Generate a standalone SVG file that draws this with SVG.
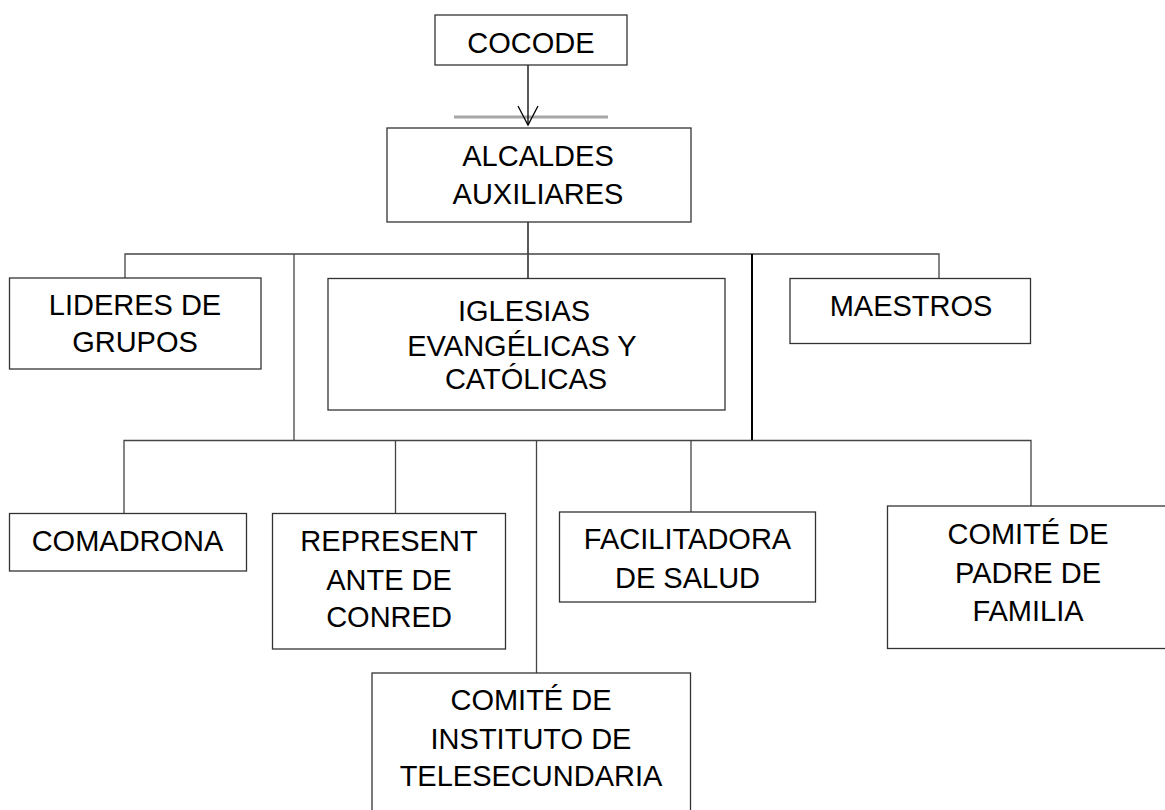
<svg xmlns="http://www.w3.org/2000/svg" width="1165" height="810" viewBox="0 0 1165 810">
<style>
  .box { fill: #ffffff; stroke: #333333; stroke-width: 1.3; }
  .lbl { font-family: "Liberation Sans", Arial, sans-serif; font-size: 29px; fill: #000000; text-anchor: middle; }
  .con { fill: none; stroke: #444444; stroke-width: 1.3; }
  .conb { fill: none; stroke: #000000; stroke-width: 2; }
</style>
<rect width="1165" height="810" fill="#ffffff"/>
<g id="connectors">
  <line x1="454" y1="117" x2="608" y2="117" stroke="#a6a6a6" stroke-width="3"/>
  <line x1="528" y1="65" x2="528" y2="125" stroke="#000" stroke-width="1.3"/>
  <polyline points="518,106 528,125 538,106" fill="none" stroke="#000" stroke-width="1.3"/>
  <line x1="528" y1="222" x2="528" y2="278" stroke="#000" stroke-width="1.3"/>
  <polyline class="con" points="125,278 125,254 939,254 939,278"/>
  <line class="con" x1="294" y1="254" x2="294" y2="440.5"/>
  <line class="conb" x1="752" y1="254" x2="752" y2="440.5"/>
  <polyline class="con" points="124,513 124,440.5 1031,440.5 1031,506"/>
  <line class="con" x1="395.5" y1="440.5" x2="395.5" y2="513"/>
  <line class="con" x1="536.5" y1="440.5" x2="536.5" y2="673"/>
  <line class="con" x1="691" y1="440.5" x2="691" y2="512"/>
</g>
<g id="cocode">
  <rect class="box" x="435" y="15" width="192" height="50"/>
  <text class="lbl" x="531" y="52.5">COCODE</text>
</g>
<g id="alcaldes">
  <rect class="box" x="387" y="128" width="304" height="94"/>
  <text class="lbl" x="538" y="165.5">ALCALDES</text>
  <text class="lbl" x="538" y="204">AUXILIARES</text>
</g>
<g id="lideres">
  <rect class="box" x="9.5" y="278" width="251.5" height="91"/>
  <text class="lbl" x="135" y="314.5">LIDERES DE</text>
  <text class="lbl" x="135" y="352">GRUPOS</text>
</g>
<g id="iglesias">
  <rect class="box" x="328" y="278.5" width="397" height="131.5"/>
  <text class="lbl" x="524" y="320.5">IGLESIAS</text>
  <text class="lbl" x="522" y="356">EVANGÉLICAS Y</text>
  <text class="lbl" x="526" y="388.5">CATÓLICAS</text>
</g>
<g id="maestros">
  <rect class="box" x="790" y="278.5" width="240.5" height="65"/>
  <text class="lbl" x="911" y="316">MAESTROS</text>
</g>
<g id="comadrona">
  <rect class="box" x="9.5" y="513.5" width="237" height="57.5"/>
  <text class="lbl" x="127.5" y="550.5">COMADRONA</text>
</g>
<g id="representante">
  <rect class="box" x="272.5" y="513.5" width="233" height="135.5"/>
  <text class="lbl" x="389" y="550.5">REPRESENT</text>
  <text class="lbl" x="389" y="590">ANTE DE</text>
  <text class="lbl" x="389" y="626.5">CONRED</text>
</g>
<g id="facilitadora">
  <rect class="box" x="559.5" y="512" width="256" height="90"/>
  <text class="lbl" x="687.5" y="548.5">FACILITADORA</text>
  <text class="lbl" x="687.5" y="587.5">DE SALUD</text>
</g>
<g id="padre">
  <rect class="box" x="887.5" y="506" width="290" height="142.5"/>
  <text class="lbl" x="1028" y="543.5">COMITÉ DE</text>
  <text class="lbl" x="1028" y="582.5">PADRE DE</text>
  <text class="lbl" x="1028" y="620.5">FAMILIA</text>
</g>
<g id="instituto">
  <rect class="box" x="372" y="673" width="318.5" height="150"/>
  <text class="lbl" x="531" y="709.5">COMITÉ DE</text>
  <text class="lbl" x="531" y="748.5">INSTITUTO DE</text>
  <text class="lbl" x="531" y="786">TELESECUNDARIA</text>
</g>
</svg>
